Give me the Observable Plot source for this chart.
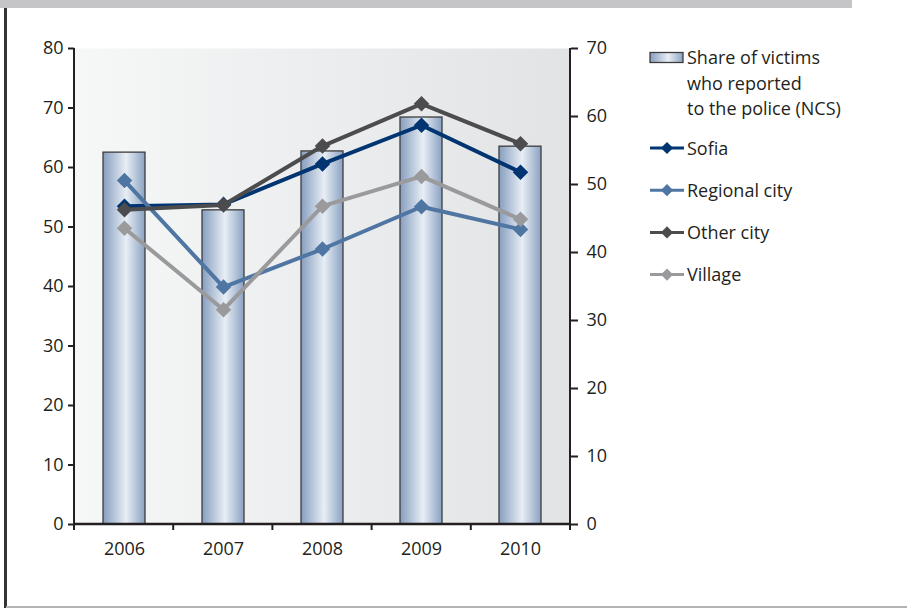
<!DOCTYPE html>
<html><head><meta charset="utf-8">
<script src="https://cdn.jsdelivr.net/npm/d3@7"></script>
<script src="https://cdn.jsdelivr.net/npm/@observablehq/plot@0.6"></script>
<style>
body{margin:0;background:#fff;}
#chart{position:relative;width:907px;height:610px;}
</style>
</head><body><div id="chart"></div>
<script>
// ---- data ----
const years = ["2006", "2007", "2008", "2009", "2010"];
const ncsShare = [62.5, 52.8, 62.7, 68.4, 63.5];       // bars, left axis
const sofia = [53.5, 53.8, 60.6, 67.1, 59.2];
const regionalCity = [57.8, 39.9, 46.3, 53.4, 49.6];
const otherCity = [52.9, 53.7, 63.6, 70.7, 64.0];
const village = [49.8, 36.1, 53.5, 58.5, 51.3];
const leftTicks = [0, 10, 20, 30, 40, 50, 60, 70, 80];
const rightTicks = [0, 10, 20, 30, 40, 50, 60, 70];
const barLabel = ["Share of victims", "who reported", "to the police (NCS)"];
const seriesNames = ["Sofia", "Regional city", "Other city", "Village"];
const seriesValues = [sofia, regionalCity, otherCity, village];
const seriesColors = ["#003572", "#4f76a2", "#4c4c4e", "#9a9a9c"];

const bars = years.map((y, i) => ({year: y, value: ncsShare[i]}));
const lines = seriesNames.map((name, s) => years.map((y, i) => ({year: y, value: seriesValues[s][i], series: name})));

const font = "'Open Sans', sans-serif";
const ink = "#231f20";
const fs = 18;

const defs = () => {
  const svgNS = "http://www.w3.org/2000/svg";
  const d = document.createElementNS(svgNS, "defs");
  d.innerHTML = `
    <linearGradient id="barGrad" x1="0" x2="1" y1="0" y2="0">
      <stop offset="0" stop-color="#869ebf"/>
      <stop offset="0.55" stop-color="#e8eef5"/>
      <stop offset="1" stop-color="#8aa2c2"/>
    </linearGradient>
    <linearGradient id="bgGrad" x1="0" x2="1" y1="0" y2="0">
      <stop offset="0" stop-color="#f6f7f7"/>
      <stop offset="1" stop-color="#e2e3e5"/>
    </linearGradient>`;
  return d;
};

const marks = [
  defs,
  Plot.frame({fill: "url(#bgGrad)", stroke: "none"}),
  Plot.barY(bars, {x: "year", y: "value", fill: "url(#barGrad)", stroke: "#3c3c3e", strokeWidth: 1.3}),
];
lines.forEach((data, s) => {
  marks.push(Plot.line(data, {x: "year", y: "value", stroke: seriesColors[s], strokeWidth: 4}));
  marks.push(Plot.dot(data, {x: "year", y: "value", fill: seriesColors[s], stroke: "none", symbol: "diamond2", r: 7}));
});
marks.push(
  Plot.axisY({ticks: leftTicks, tickSize: 6, tickPadding: 5, fontSize: fs, strokeWidth: 2, stroke: ink, fill: ink, label: null}),
  Plot.axisY({anchor: "right", ticks: rightTicks.map(r => r * 80 / 70), tickFormat: d => Math.round(d * 70 / 80),
    tickSize: 7, tickPadding: 9, fontSize: fs, strokeWidth: 2, stroke: ink, fill: ink, label: null}),
  Plot.axisX({tickSize: 0, tickPadding: 18, fontSize: fs, fill: ink, label: null})
);

const plot = Plot.plot({
  width: 907, height: 610,
  marginLeft: 74, marginRight: 337, marginTop: 48, marginBottom: 86,
  style: {fontFamily: font, fontSize: fs + "px", background: "white", color: ink},
  x: {domain: years, paddingInner: 0.577, paddingOuter: 0.2885, align: 0.5},
  y: {domain: [0, 80]},
  marks
});

document.getElementById("chart").appendChild(plot);

// ---- decorations & legend ----
const svg = d3.select(plot);
const ys = plot.scale("y");
const [x0, x1] = [74, 570];
const [yb, yt] = ys.range;
const step = (x1 - x0) / years.length;
const g = svg.append("g").attr("stroke", ink).attr("stroke-width", 2);
// axis lines
g.append("line").attr("x1", x0).attr("x2", x0).attr("y1", yt).attr("y2", yb + 1);
g.append("line").attr("x1", x1).attr("x2", x1).attr("y1", yt).attr("y2", yb + 1);
g.append("line").attr("x1", x0 - 1).attr("x2", x1 + 1).attr("y1", yb).attr("y2", yb).attr("stroke-width", 2.5);
// category boundary ticks
for (let i = 0; i <= years.length; i++) {
  const xx = x0 + i * step;
  g.append("line").attr("x1", xx).attr("x2", xx).attr("y1", yb).attr("y2", yb + 6);
}
// frame decorations
svg.append("rect").attr("x", 0).attr("y", 0).attr("width", 852).attr("height", 8).attr("fill", "#c5c5c7");
svg.append("rect").attr("x", 4).attr("y", 8).attr("width", 3).attr("height", 600).attr("fill", "#333");
svg.append("rect").attr("x", 6).attr("y", 606).attr("width", 901).attr("height", 2).attr("fill", "#b3b3b3");

// legend
const lg = svg.append("g").attr("font-family", font).attr("font-size", fs).attr("fill", ink).attr("text-anchor", "start");
lg.append("rect").attr("x", 650).attr("y", 52.5).attr("width", 33).attr("height", 10)
  .attr("fill", "url(#barGrad)").attr("stroke", "#3c3c3e").attr("stroke-width", 1.3);
barLabel.forEach((t, i) => lg.append("text").attr("x", 687).attr("y", 64 + i * 25.5).text(t));
const sym = d3.symbol(d3.symbolDiamond2, Math.PI * 5.5 * 5.5);
seriesNames.forEach((name, s) => {
  const cy = 148 + s * 42.2;
  lg.append("line").attr("x1", 650).attr("x2", 684).attr("y1", cy).attr("y2", cy)
    .attr("stroke", seriesColors[s]).attr("stroke-width", 3);
  lg.append("path").attr("d", sym()).attr("transform", `translate(667,${cy})`).attr("fill", seriesColors[s]);
  lg.append("text").attr("x", 687).attr("y", cy + 6.5).text(name);
});
</script>
</body></html>
